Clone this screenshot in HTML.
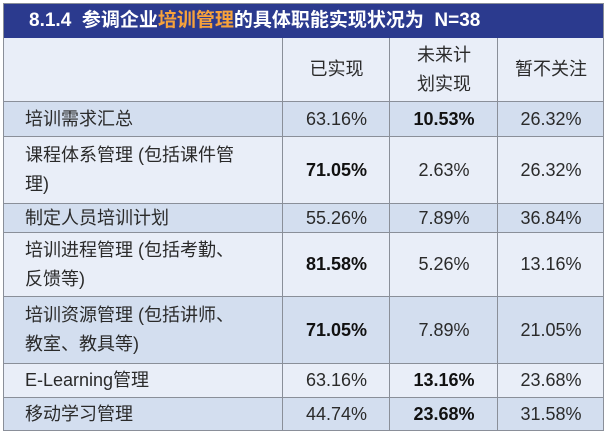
<!DOCTYPE html>
<html><head><meta charset="utf-8"><style>
body{margin:0;background:#fff;width:609px;height:435px;overflow:hidden;font-family:"Liberation Sans","Noto Sans CJK SC",sans-serif;}
.f{position:absolute;left:3px;top:3px;width:601px;height:428px;border:1px solid #8a8f99;box-sizing:border-box;}
.t{position:absolute;left:3px;top:3px;width:601px;height:35px;background:#2b3a8e;color:#fff;font-weight:bold;font-size:19px;line-height:35px;padding-left:26px;box-sizing:border-box;}
.t span{color:#f7a23b}
.r{position:absolute;left:4px;width:599px;border-top:1px solid #8a8f99;box-sizing:border-box;}
.c{position:absolute;top:0;bottom:0;display:flex;align-items:center;justify-content:center;font-size:18px;color:#2a2a2a;text-align:center;line-height:29px;}
.c0{left:0;width:278px;justify-content:flex-start;padding-left:21px;text-align:left;box-sizing:border-box;}
.c1{left:278px;width:107px;border-left:1px solid #8a8f99;}
.c2{left:385px;width:108px;border-left:1px solid #8a8f99;}
.c3{left:493px;width:106px;border-left:1px solid #8a8f99;}
b{font-weight:bold;color:#111}
.d{background:#d3deef}.l{background:#e9eef8}
</style></head><body>
<div class="t">8.1.4&nbsp; 参调企业<span>培训管理</span>的具体职能实现状况为&nbsp; N=38</div>
<div class="r l" style="top:38px;height:63px;border-top:none"><div class="c c0"></div><div class="c c1">已实现</div><div class="c c2">未来计<br>划实现</div><div class="c c3">暂不关注</div></div>
<div class="r d" style="top:101px;height:35px"><div class="c c0">培训需求汇总</div><div class="c c1">63.16%</div><div class="c c2"><b>10.53%</b></div><div class="c c3">26.32%</div></div>
<div class="r l" style="top:136px;height:67px"><div class="c c0">课程体系管理 (包括课件管<br>理)</div><div class="c c1"><b>71.05%</b></div><div class="c c2">2.63%</div><div class="c c3">26.32%</div></div>
<div class="r d" style="top:203px;height:29px"><div class="c c0">制定人员培训计划</div><div class="c c1">55.26%</div><div class="c c2">7.89%</div><div class="c c3">36.84%</div></div>
<div class="r l" style="top:232px;height:64px"><div class="c c0">培训进程管理 (包括考勤、<br>反馈等)</div><div class="c c1"><b>81.58%</b></div><div class="c c2">5.26%</div><div class="c c3">13.16%</div></div>
<div class="r d" style="top:296px;height:67px"><div class="c c0">培训资源管理 (包括讲师、<br>教室、教具等)</div><div class="c c1"><b>71.05%</b></div><div class="c c2">7.89%</div><div class="c c3">21.05%</div></div>
<div class="r l" style="top:363px;height:34px"><div class="c c0">E-Learning管理</div><div class="c c1">63.16%</div><div class="c c2"><b>13.16%</b></div><div class="c c3">23.68%</div></div>
<div class="r d" style="top:397px;height:34px"><div class="c c0">移动学习管理</div><div class="c c1">44.74%</div><div class="c c2"><b>23.68%</b></div><div class="c c3">31.58%</div></div>
<div class="f"></div>
</body></html>
